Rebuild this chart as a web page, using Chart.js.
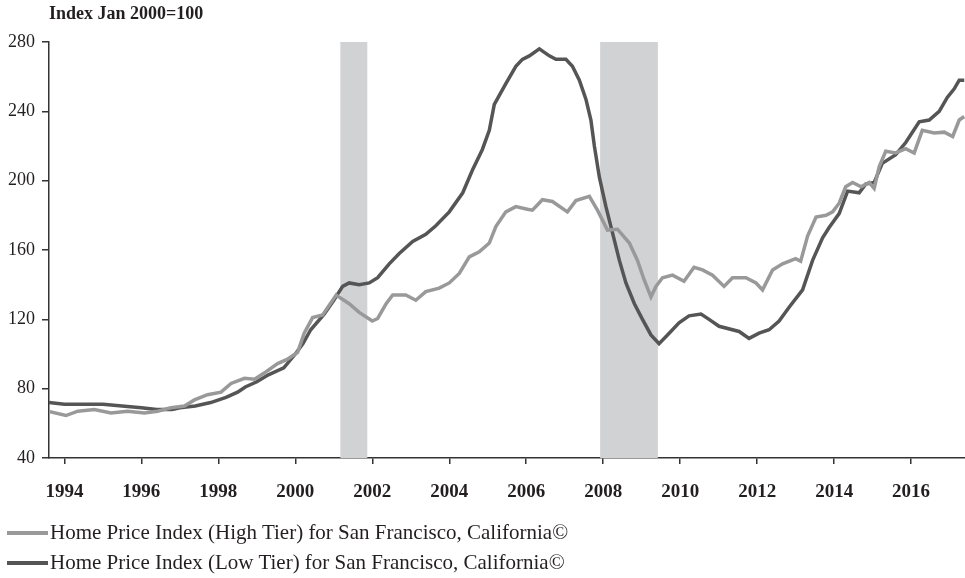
<!DOCTYPE html>
<html>
<head>
<meta charset="utf-8">
<script src="https://cdn.jsdelivr.net/npm/chart.js@4/dist/chart.umd.min.js"></script>
<style>
  html, body { margin: 0; padding: 0; background: #fff; }
  #wrap { position: relative; width: 965px; height: 578px; }
  #chart { position: absolute; left: 0; top: 0; }
  #title { position: absolute; left: 49px; top: 3px; font: bold 18px "Liberation Serif", serif; color: #231f20; }
  .legend { position: absolute; left: 7px; font: 21px "Liberation Serif", serif; color: #231f20; white-space: nowrap; }
  .legend span.swatch { display: inline-block; width: 41px; height: 4px; vertical-align: middle; margin-right: 2px; position: relative; top: -1px; }
</style>
</head>
<body>
<div id="wrap">
  <canvas id="chart" width="965" height="578"></canvas>
  <div id="title">Index Jan 2000=100</div>
  <div id="legend"></div>
</div>
<script>
// Home price index, San Francisco
const seriesNames = [
  'Home Price Index (High Tier) for San Francisco, California©',
  'Home Price Index (Low Tier) for San Francisco, California©'
];
const seriesColors = ['#999999', '#555555'];

const highYears = [1993.57, 1994.04, 1994.35, 1994.78, 1995.21, 1995.64, 1996.08, 1996.42, 1996.77, 1997.12,
  1997.38, 1997.72, 1998.07, 1998.33, 1998.68, 1998.94, 1999.19, 1999.54, 1999.8, 2000.06,
  2000.23, 2000.45, 2000.71, 2001.06, 2001.4, 2001.66, 2002.0, 2002.14, 2002.36, 2002.53,
  2002.87, 2003.13, 2003.39, 2003.74, 2004.0, 2004.26, 2004.52, 2004.78, 2005.04, 2005.21,
  2005.47, 2005.73, 2006.03, 2006.16, 2006.42, 2006.68, 2007.07, 2007.29, 2007.64, 2007.85,
  2008.11, 2008.37, 2008.68, 2008.89, 2009.06, 2009.24, 2009.37, 2009.54, 2009.8, 2010.1,
  2010.36, 2010.58, 2010.84, 2011.14, 2011.36, 2011.71, 2011.97, 2012.14, 2012.4, 2012.66,
  2013.0, 2013.13, 2013.31, 2013.53, 2013.79, 2013.96, 2014.13, 2014.3, 2014.48, 2014.7,
  2014.91, 2015.04, 2015.17, 2015.34, 2015.6, 2015.86, 2016.08, 2016.29, 2016.6, 2016.86,
  2017.08, 2017.25, 2017.38];
const highValues = [67, 64.5, 67, 68, 66, 67, 66, 67, 69, 70,
  73.5, 76.5, 78, 83, 86, 85.5, 89, 94.5, 97, 101,
  112, 121, 122.5, 134, 129, 124, 119, 120.5, 129, 134,
  134, 131, 136, 138, 141, 146.5, 156, 159, 164, 173.5,
  182, 185, 183.5, 183, 189, 188, 182, 188.5, 191, 183,
  171.5, 172, 164, 154, 143, 133, 139, 144, 145.5, 142,
  150, 148.5, 145.5, 139, 144, 144, 141, 137, 148.5, 152,
  155, 153.5, 168, 179, 180, 182, 187, 196.5, 199, 196.5,
  199, 195.5, 208, 217, 216, 218.5, 216, 229, 227.5, 228,
  225.5, 235, 237];

const lowYears = [1993.6, 1994.0, 1994.5, 1995.0, 1995.5, 1996.0, 1996.4, 1996.8, 1997.0, 1997.4,
  1997.8, 1998.2, 1998.5, 1998.7, 1999.0, 1999.3, 1999.7, 2000.0, 2000.2, 2000.4,
  2000.75, 2001.0, 2001.23, 2001.4, 2001.66, 2001.92, 2002.14, 2002.44, 2002.7, 2003.05,
  2003.39, 2003.65, 2004.0, 2004.35, 2004.6, 2004.86, 2005.04, 2005.17, 2005.47, 2005.73,
  2005.9, 2006.08, 2006.34, 2006.6, 2006.77, 2007.03, 2007.2, 2007.38, 2007.55, 2007.68,
  2007.77, 2007.9, 2008.07, 2008.24, 2008.42, 2008.59, 2008.81, 2009.02, 2009.24, 2009.45,
  2009.67, 2009.97, 2010.23, 2010.54, 2010.75, 2011.01, 2011.53, 2011.79, 2012.05, 2012.31,
  2012.57, 2012.83, 2013.18, 2013.44, 2013.7, 2013.87, 2014.13, 2014.35, 2014.65, 2014.82,
  2015.04, 2015.25, 2015.6, 2015.86, 2016.21, 2016.47, 2016.73, 2016.94, 2017.12, 2017.25,
  2017.38];
const lowValues = [72, 71, 71, 71, 70, 69, 68, 68, 69, 70,
  72, 75, 78, 81, 84, 88, 92, 100, 106, 114,
  123, 131, 139, 141, 140, 141, 144, 152, 158, 165,
  169, 174, 182, 193, 206, 218, 229, 244, 256, 266,
  270, 272, 276, 272, 270, 270, 266, 258, 247, 235,
  220, 202, 185, 170, 154, 141, 129, 120, 111, 106,
  111, 118, 122, 123, 120, 116, 113, 109, 112, 114,
  119, 127, 137, 154, 167, 173, 181, 194, 193, 198,
  199, 210, 215, 222, 234, 235, 240, 248, 253, 258,
  258];

// recessions (shaded)
const recessionStarts = [2001.17, 2007.92];
const recessionEnds = [2001.87, 2009.42];

const xTickYears = [1994, 1996, 1998, 2000, 2002, 2004, 2006, 2008, 2010, 2012, 2014, 2016];
const yMin = 40, yMax = 280, yStep = 40;

const toPoints = (xs, ys) => xs.map((x, i) => ({ x: x, y: ys[i] }));

const recessionPlugin = {
  id: 'recessions',
  beforeDatasetsDraw(chart) {
    const { ctx, chartArea, scales } = chart;
    ctx.save();
    ctx.fillStyle = '#d1d2d4';
    recessionStarts.forEach((s, i) => {
      const x0 = scales.x.getPixelForValue(s);
      const x1 = scales.x.getPixelForValue(recessionEnds[i]);
      ctx.fillRect(x0, chartArea.top, x1 - x0, chartArea.bottom - chartArea.top);
    });
    ctx.restore();
  }
};

const tickFont = { family: 'Liberation Serif', size: 18 };

new Chart(document.getElementById('chart').getContext('2d'), {
  type: 'line',
  data: {
    datasets: [
      { label: seriesNames[0], data: toPoints(highYears, highValues), borderColor: seriesColors[0],
        borderWidth: 3.5, pointRadius: 0, tension: 0, fill: false },
      { label: seriesNames[1], data: toPoints(lowYears, lowValues), borderColor: seriesColors[1],
        borderWidth: 3.5, pointRadius: 0, tension: 0, fill: false }
    ]
  },
  options: {
    responsive: false,
    animation: false,
    layout: { padding: { top: 42, right: 0, bottom: 60, left: 0 } },
    plugins: { legend: { display: false }, tooltip: { enabled: false } },
    scales: {
      x: {
        type: 'linear',
        min: 1993.6,
        max: 2017.4,
        afterBuildTicks: (axis) => { axis.ticks = xTickYears.map(v => ({ value: v })); },
        afterFit: (axis) => { axis.height = 60; },
        ticks: { font: { family: 'Liberation Serif', size: 19, weight: 'bold' }, color: '#231f20',
          padding: 17, maxRotation: 0, callback: (v) => String(v) },
        grid: { drawOnChartArea: false, drawTicks: true, tickLength: 6, color: '#333', lineWidth: 1.5 },
        border: { display: true, color: '#333', width: 1.5 }
      },
      y: {
        min: yMin,
        max: yMax,
        afterFit: (axis) => { axis.width = 49; },
        ticks: { stepSize: yStep, font: tickFont, color: '#231f20', padding: 7 },
        grid: { drawOnChartArea: false, drawTicks: true, tickLength: 7, color: '#333', lineWidth: 1.5 },
        border: { display: true, color: '#333', width: 1.5 }
      }
    }
  },
  plugins: [recessionPlugin]
});

// legend below the chart
const legendEl = document.getElementById('legend');
seriesNames.forEach((name, i) => {
  const row = document.createElement('div');
  row.className = 'legend';
  row.style.top = (520 + i * 30) + 'px';
  const sw = document.createElement('span');
  sw.className = 'swatch';
  sw.style.background = seriesColors[i];
  row.appendChild(sw);
  row.appendChild(document.createTextNode(name));
  legendEl.appendChild(row);
});
</script>
</body>
</html>
